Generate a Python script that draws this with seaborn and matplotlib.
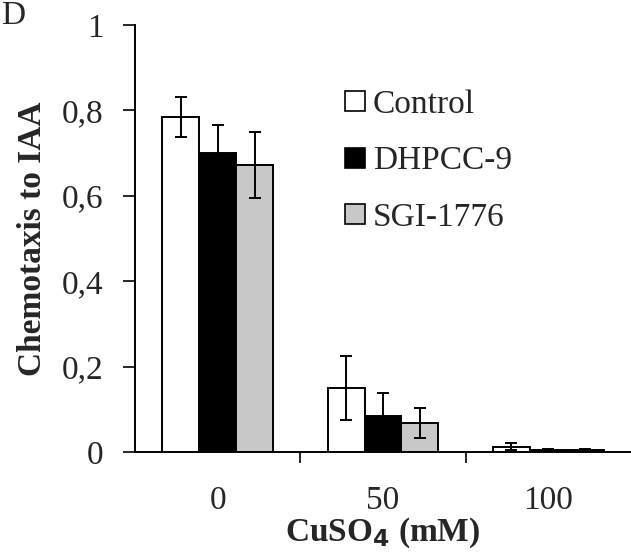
import matplotlib
matplotlib.use("Agg")
import matplotlib.pyplot as plt
from matplotlib.lines import Line2D
from matplotlib.ticker import FuncFormatter, FixedLocator
import seaborn as sns
import numpy as np
import pandas as pd

# Data setup
doses = ["0", "50", "100"]
treatments = ["Control", "DHPCC-9", "SGI-1776"]
control = [0.785, 0.150, 0.012]
dhpcc = [0.700, 0.084, 0.005]
sgi = [0.672, 0.068, 0.005]
control_err = [0.047, 0.075, 0.008]
dhpcc_err = [0.065, 0.054, 0.003]
sgi_err = [0.077, 0.035, 0.003]
colors = ["white", "black", "#c8c8c8"]

df = pd.DataFrame({
    "dose": doses * 3,
    "treatment": np.repeat(treatments, 3),
    "value": control + dhpcc + sgi,
    "err": control_err + dhpcc_err + sgi_err,
})

sns.set_style("white")
plt.rcParams["font.family"] = ["Liberation Serif", "DejaVu Serif"]

fig = plt.figure(figsize=(6.31, 5.58), dpi=100)
ax = fig.add_axes([0.214, 0.19, 0.786, 0.765])

sns.barplot(data=df, x="dose", y="value", hue="treatment", order=doses,
            hue_order=treatments, palette=colors, edgecolor="black",
            linewidth=1.4, width=0.67, errorbar=None, legend=False, ax=ax)

# error bars at the bar centres
for patch, (_, row) in zip(ax.patches, df.iterrows()):
    xc = patch.get_x() + patch.get_width() / 2
    ax.errorbar(xc, row["value"], yerr=row["err"], fmt="none",
                ecolor="black", elinewidth=1.4, capsize=4, capthick=1.4)

ax.set_ylim(0, 1)
ax.set_xlim(-0.5, 2.5)
ax.set_yticks([0, 0.2, 0.4, 0.6, 0.8, 1])
ax.yaxis.set_major_formatter(FuncFormatter(lambda v, p: ("%g" % v).replace(".", ",")))
ax.xaxis.set_minor_locator(FixedLocator([0.5, 1.5]))
ax.tick_params(axis="x", which="major", length=0, labelsize=24, pad=24)
ax.tick_params(axis="x", which="minor", length=8, width=1.4, direction="out", bottom=True)
ax.tick_params(axis="y", length=8.5, width=1.4, direction="out", left=True, labelsize=24, pad=14)

for s in ["top", "right"]:
    ax.spines[s].set_visible(False)
for s in ["left", "bottom"]:
    ax.spines[s].set_linewidth(1.4)
    ax.spines[s].set_color("black")

ax.set_ylabel("Chemotaxis to IAA", fontsize=24, fontweight="bold", labelpad=10)
ax.set_xlabel("CuSO$_\\mathbf{4}$ (mM)", fontsize=24, fontweight="bold", labelpad=0)

handles = [Line2D([], [], marker="s", linestyle="none", markersize=15,
                  markerfacecolor=c, markeredgecolor="black", markeredgewidth=1.2)
           for c in colors]
ax.legend(handles, treatments, loc="upper left", bbox_to_anchor=(0.35, 0.92),
          frameon=False, fontsize=24, handletextpad=0.02, labelspacing=0.78,
          handlelength=1.0)

fig.text(0.002, 0.999, "D", fontsize=24, va="top", ha="left")

fig.savefig("out.png", dpi=100)
